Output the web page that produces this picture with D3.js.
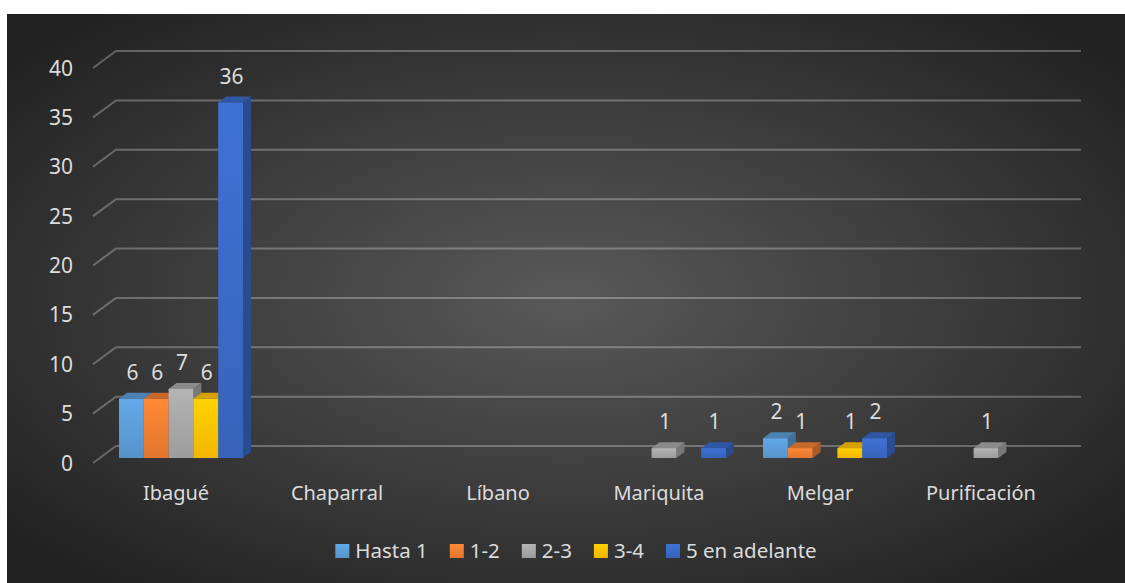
<!DOCTYPE html>
<html>
<head>
<meta charset="utf-8">
<script src="https://cdn.jsdelivr.net/npm/d3@7"></script>
<style>
  html, body { margin: 0; padding: 0; background: #fff; }
  svg text { font-family: "Noto Sans", sans-serif; fill: #dcdcdc; }
</style>
</head>
<body>
<div id="chart"></div>
<script>
var categories = ["Ibagué", "Chaparral", "Líbano", "Mariquita", "Melgar", "Purificación"];
var seriesNames = ["Hasta 1", "1-2", "2-3", "3-4", "5 en adelante"];
var hasta1 = [6, 0, 0, 0, 2, 0];
var r12 = [6, 0, 0, 0, 1, 0];
var r23 = [7, 0, 0, 1, 0, 1];
var r34 = [6, 0, 0, 0, 1, 0];
var cinco = [36, 0, 0, 1, 2, 0];
var yTicks = [0, 5, 10, 15, 20, 25, 30, 35, 40];
var colors = ["#5b9bd5", "#ed7d31", "#a5a5a5", "#ffc000", "#3a68c4"];

var width = 1125, height = 583;
var depthX = 23, depthY = -17;   // floor depth of gridlines
var barDX = 8, barDY = -6;       // bar depth
var values = [hasta1, r12, r23, r34, cinco];

var svg = d3.select('#chart').append('svg')
  .attr('width', width).attr('height', height);
var defs = svg.append('defs');

var bg = defs.append('radialGradient').attr('id', 'bg')
  .attr('cx', '50%').attr('cy', '50%').attr('r', '65%');
bg.append('stop').attr('offset', '0%').attr('stop-color', '#595959');
bg.append('stop').attr('offset', '100%').attr('stop-color', '#222');

colors.forEach(function(c, i) {
  var g = defs.append('linearGradient').attr('id', 'grad' + i)
    .attr('x1', 0).attr('y1', 0).attr('x2', 0).attr('y2', 1);
  g.append('stop').attr('offset', '0%').attr('stop-color', d3.color(c).brighter(0.25));
  g.append('stop').attr('offset', '100%').attr('stop-color', d3.color(c).darker(0.15));
});

svg.append('rect').attr('x', 7).attr('y', 14)
  .attr('width', width - 7).attr('height', height - 14)
  .attr('fill', 'url(#bg)');

var y = d3.scaleLinear().domain([0, 40]).range([463, 68]);
var x = d3.scaleBand().domain(categories).range([100.5, 1066.5])
  .paddingInner(0.23).paddingOuter(0.115);
var xs = d3.scaleBand().domain(seriesNames).range([0, x.bandwidth()]);
var barBase = y(0) - 5;
function barTop(v) { return barBase - (y(0) - y(v)); }

// gridlines
var grid = svg.append('g');
yTicks.forEach(function(t) {
  var fy = y(t);
  grid.append('path')
    .attr('d', 'M93,' + fy + 'L' + (93 + depthX) + ',' + (fy + depthY) + 'H1081')
    .attr('fill', 'none')
    .attr('stroke', 'rgba(255,255,255,0.28)')
    .attr('stroke-width', 2);
  svg.append('text')
    .attr('x', 73).attr('y', fy + 7.5)
    .attr('text-anchor', 'end')
    .attr('font-size', 21)
    .text(t);
});

// bars
var bars = svg.append('g');
var labels = svg.append('g');
categories.forEach(function(cat, ci) {
  seriesNames.forEach(function(s, si) {
    var v = values[si][ci];
    if (!v) return;
    var x0 = x(cat) + xs(s), x1 = x0 + xs.bandwidth();
    var y0 = barTop(v), y1 = barBase;
    var c = d3.color(colors[si]);
    bars.append('path')
      .attr('d', 'M' + x1 + ',' + y0 + 'L' + (x1 + barDX) + ',' + (y0 + barDY) +
        'L' + (x1 + barDX) + ',' + (y1 + barDY) + 'L' + x1 + ',' + y1 + 'Z')
      .attr('fill', c.darker(0.9));
    bars.append('path')
      .attr('d', 'M' + x0 + ',' + y0 + 'L' + (x0 + barDX) + ',' + (y0 + barDY) +
        'L' + (x1 + barDX) + ',' + (y0 + barDY) + 'L' + x1 + ',' + y0 + 'Z')
      .attr('fill', c.darker(0.5));
    bars.append('rect')
      .attr('x', x0).attr('y', y0)
      .attr('width', x1 - x0).attr('height', y1 - y0)
      .attr('fill', 'url(#grad' + si + ')');
    labels.append('text')
      .attr('x', (x0 + x1) / 2 + 1).attr('y', y0 - 19)
      .attr('text-anchor', 'middle')
      .attr('font-size', 21)
      .text(v);
  });
  svg.append('text')
    .attr('x', x(cat) + x.bandwidth() / 2 - 5).attr('y', 500)
    .attr('text-anchor', 'middle')
    .attr('font-size', 20)
    .text(cat);
});

// legend
var legend = svg.append('g');
var lx = 0;
seriesNames.forEach(function(s, i) {
  var g = legend.append('g').attr('transform', 'translate(' + lx + ',0)');
  g.append('rect').attr('x', 0).attr('y', -7).attr('width', 14).attr('height', 14)
    .attr('fill', 'url(#grad' + i + ')');
  var t = g.append('text').attr('x', 20).attr('y', 7).attr('font-size', 20.5).text(s);
  lx += 20 + t.node().getComputedTextLength() + 22;
});
var lw = lx - 22;
legend.attr('transform', 'translate(' + (576 - lw / 2) + ',551)');
</script>
</body>
</html>
